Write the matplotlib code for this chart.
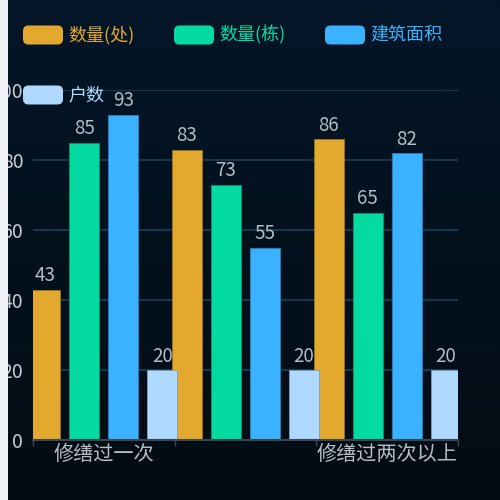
import numpy as np
import matplotlib
matplotlib.use("Agg")
import matplotlib.pyplot as plt
from matplotlib.patches import FancyBboxPatch, Rectangle

plt.rcParams['font.family'] = ['Noto Sans CJK SC', 'DejaVu Sans']

categories = ['修缮过一次', '', '修缮过两次以上']
series_names = ['数量(处)', '数量(栋)', '建筑面积', '户数']
count_sites = [43, 83, 86]
count_buildings = [85, 73, 65]
floor_area = [93, 55, 82]
households = [20, 20, 20]
colors = ['#e2a92e', '#04dba3', '#3ab2ff', '#b0d9ff']
edge_colors = ['#9c7420', '#049670', '#2a7fb8', '#7e9cb8']

W = 500
fig = plt.figure(figsize=(5, 5), dpi=100)

# background gradient
bg = fig.add_axes([0, 0, 1, 1], zorder=-10)
grad = np.linspace(0, 1, 256).reshape(-1, 1)
top = np.array([0x03, 0x16, 0x28]) / 255
bot = np.array([0x03, 0x0c, 0x13]) / 255
img = top + (bot - top) * grad[:, :, None]
bg.imshow(img, aspect='auto', extent=[0, 1, 0, 1])
bg.axis('off')

ax = fig.add_axes([33 / W, 60 / W, 425 / W, 350 / W])
ax.set_facecolor('none')

data = [count_sites, count_buildings, floor_area, households]
x = np.arange(len(categories))
unit = 425 / len(categories)
bw = 30 / unit
pitch = 39 / unit
for i, vals in enumerate(data):
    off = (i - 1.5) * pitch
    ax.bar(x + off, vals, width=bw, color=colors[i], edgecolor=edge_colors[i],
           linewidth=0.6, zorder=2 + i)
    for xi, v in zip(x + off, vals):
        ax.annotate(str(v), (xi, v), xytext=(0, 2.5), textcoords='offset points',
                    ha='center', va='bottom', color='#b4bcc4', fontsize=13.5,
                    zorder=10, annotation_clip=False)

ax.set_xlim(-0.5, len(categories) - 0.5)
ax.set_ylim(0, 100)
ax.set_yticks([0, 20, 40, 60, 80, 100])
ax.grid(axis='y', color='#1b3447', linewidth=1.6, zorder=0)
ax.set_axisbelow(True)
ax.set_xticks(x)
ax.set_xticklabels(categories, color='#b4bcc4', fontsize=14.5)
ax.set_xticks(np.arange(len(categories) + 1) - 0.5, minor=True)
ax.tick_params(axis='x', which='major', length=0, pad=3)
ax.tick_params(axis='x', which='minor', length=4, color='#3c4650', width=1)
ax.tick_params(axis='y', length=0, pad=7, labelcolor='#c4cbd2', labelsize=14)
for s in ['top', 'right', 'left']:
    ax.spines[s].set_visible(False)
ax.spines['bottom'].set_color('#3c4650')
ax.spines['bottom'].set_linewidth(1.5)
ax.spines['bottom'].set_zorder(20)

# legend
for i, name in enumerate(series_names):
    lx = 23 + (i % 3) * 151
    ly = 35 + (i // 3) * 60
    patch = FancyBboxPatch((lx / W, 1 - (ly + 9.5) / W), 40 / W, 19 / W,
                           boxstyle='round,pad=0,rounding_size=0.011',
                           transform=fig.transFigure, facecolor=colors[i],
                           edgecolor='none', zorder=5)
    fig.add_artist(patch)
    fig.text((lx + 45) / W, 1 - ly / W, name, color=colors[i], fontsize=13,
             va='center', ha='left', zorder=6)

# light strip on the left edge
fig.add_artist(Rectangle((0, 0), 8 / W, 1, transform=fig.transFigure,
                         facecolor='#eef1f6', edgecolor='none', zorder=30))

fig.savefig('out.png', dpi=100)
